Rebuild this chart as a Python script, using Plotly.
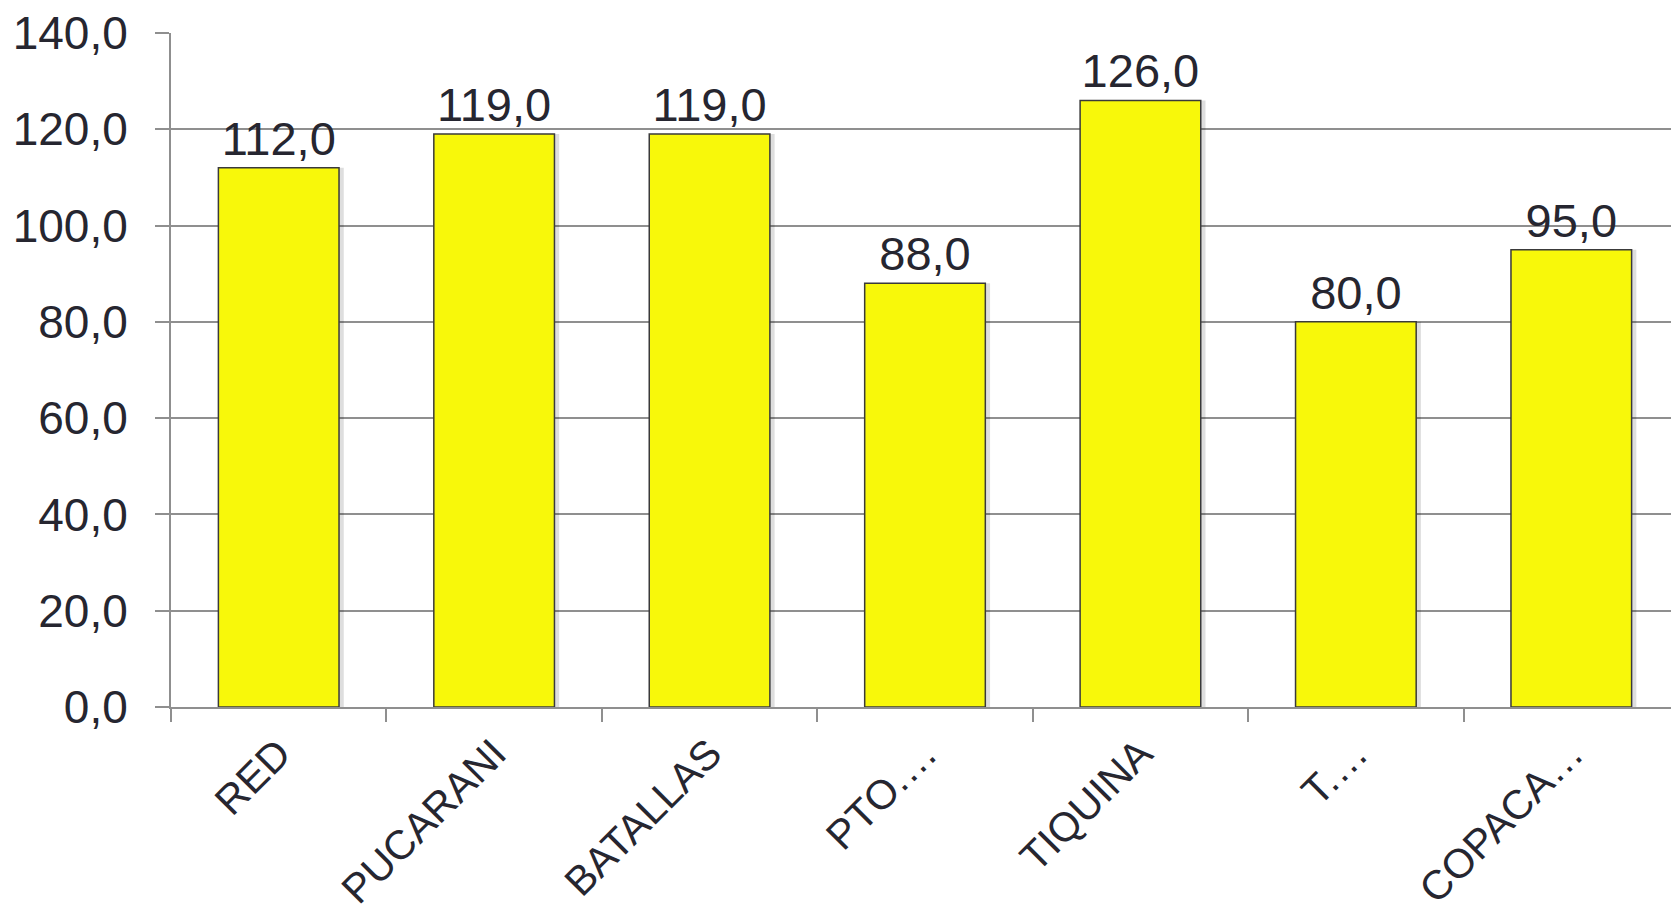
import plotly.graph_objects as go

categories = ["RED", "PUCARANI", "BATALLAS", "PTO.…", "TIQUINA", "T.…", "COPACA…"]
values = [112.0, 119.0, 119.0, 88.0, 126.0, 80.0, 95.0]
y_ticks = [0, 20, 40, 60, 80, 100, 120, 140]

text_color = "#262630"
grid_color = "#8f8f8f"
bar_w = 0.56

fig = go.Figure()
# soft drop shadow behind each bar
fig.add_trace(go.Bar(
    x=categories,
    y=values,
    width=bar_w,
    offset=-bar_w / 2 + 0.022,
    marker=dict(color="rgba(0,0,0,0.13)", line=dict(width=0)),
    hoverinfo="skip",
))
fig.add_trace(go.Bar(
    x=categories,
    y=values,
    width=bar_w,
    offset=-bar_w / 2,
    marker=dict(color="#f8f80a", line=dict(color="#3a3a3a", width=1.5)),
    text=[f"{v:.1f}".replace(".", ",") for v in values],
    textposition="outside",
    textfont=dict(size=47, color=text_color, family="Liberation Sans, Arial"),
    cliponaxis=False,
))

# page body has a default 8px margin, so the figure is sized/offset to compensate
fig.update_layout(
    width=1671,
    height=905,
    margin=dict(l=163, r=0, t=25, b=206),
    plot_bgcolor="white",
    paper_bgcolor="white",
    barmode="overlay",
    separators=", ",
    showlegend=False,
    font=dict(family="Liberation Sans, Arial", color=text_color),
)
fig.update_xaxes(
    type="category",
    tickangle=-45,
    tickfont=dict(size=41, color=text_color),
    showline=True,
    linecolor=grid_color,
    linewidth=2,
    ticks="outside",
    tickson="boundaries",
    ticklen=13,
    tickcolor=grid_color,
    tickwidth=2,
    showgrid=False,
    automargin=False,
    ticklabelstandoff=4,
    ticklabeloverflow="allow",
)
fig.update_yaxes(
    range=[0, 140],
    tickvals=y_ticks,
    tickformat=".1f",
    tickfont=dict(size=46, color=text_color),
    showline=True,
    linecolor=grid_color,
    linewidth=2,
    ticks="outside",
    ticklen=14,
    tickcolor=grid_color,
    tickwidth=2,
    showgrid=True,
    gridcolor=grid_color,
    gridwidth=2,
    zeroline=False,
    automargin=False,
    ticklabelstandoff=18,
    ticklabeloverflow="allow",
)

fig.write_html("out.html")
